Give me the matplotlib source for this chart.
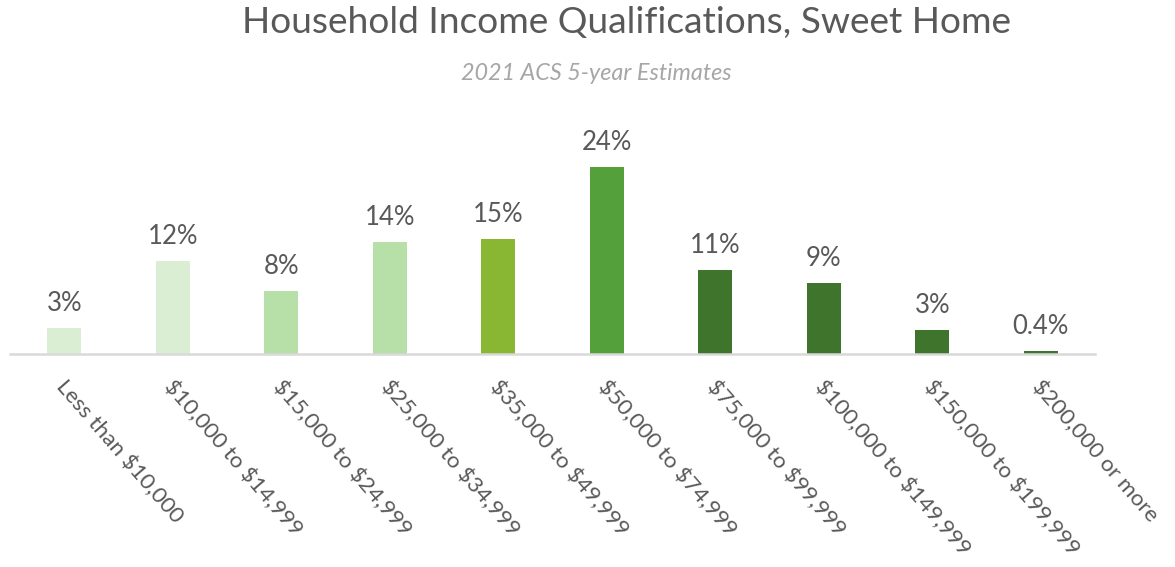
import matplotlib
matplotlib.use("Agg")
import matplotlib.pyplot as plt
import matplotlib.transforms as mtrans

categories = ["Less than $10,000", "$10,000 to $14,999", "$15,000 to $24,999",
              "$25,000 to $34,999", "$35,000 to $49,999", "$50,000 to $74,999",
              "$75,000 to $99,999", "$100,000 to $149,999", "$150,000 to $199,999",
              "$200,000 or more"]
values = [3.3, 12.0, 8.1, 14.4, 14.8, 24.0, 10.8, 9.1, 3.1, 0.4]
value_labels = ["3%", "12%", "8%", "14%", "15%", "24%", "11%", "9%", "3%", "0.4%"]
bar_colors = ["#DAEED3", "#DAEED3", "#B7E0A8", "#B7E0A8", "#8AB733",
              "#54A03A", "#3E742B", "#3E742B", "#3E742B", "#3E742B"]

title = "Household Income Qualifications, Sweet Home"
subtitle = "2021 ACS 5-year Estimates"

FONT = "Lato"
plt.rcParams["font.family"] = [FONT, "DejaVu Sans"]
plt.rcParams["text.parse_math"] = False

W, H = 1175, 567
fig = plt.figure(figsize=(W / 100, H / 100), dpi=100)
ax_left, ax_right, ax_base, ax_top = 10, 1095, 354, 130
ax = fig.add_axes([ax_left / W, (H - ax_base) / H, (ax_right - ax_left) / W,
                   (ax_base - ax_top) / H])
ymax = 24.0 * (ax_base - ax_top) / (354 - 167)
x = list(range(len(categories)))
ax.bar(x, values, width=0.31, color=bar_colors, zorder=2)
ax.set_xlim(-0.5, len(categories) - 0.5)
ax.set_ylim(0, ymax)
for s in ["top", "right", "left"]:
    ax.spines[s].set_visible(False)
ax.spines["bottom"].set_color("#D9D9D9")
ax.spines["bottom"].set_linewidth(1.8)
ax.set_yticks([])
ax.set_xticks(x)
ax.set_xticklabels(categories, rotation=-49, ha="left", va="top",
                   rotation_mode="anchor", fontsize=16.2, color="#595959")
ax.tick_params(axis="x", length=0, pad=16)
offset = mtrans.ScaledTranslation(3 / 100, 0, fig.dpi_scale_trans)
for lbl in ax.get_xticklabels():
    lbl.set_transform(lbl.get_transform() + offset)

for xi, v, t in zip(x, values, value_labels):
    ax.annotate(t, (xi, v), xytext=(0, 8.5), textcoords="offset points",
                ha="center", va="bottom", fontsize=18.5, color="#595959")

fig.text(627 / W, 1 - 22 / H, title, ha="center", va="center", fontsize=26.7,
         color="#595959")
fig.text(596 / W, 1 - 74 / H, subtitle, ha="center", va="center", fontsize=16.8,
         color="#A6A6A6", style="italic")

fig.savefig("out.png", dpi=100)
